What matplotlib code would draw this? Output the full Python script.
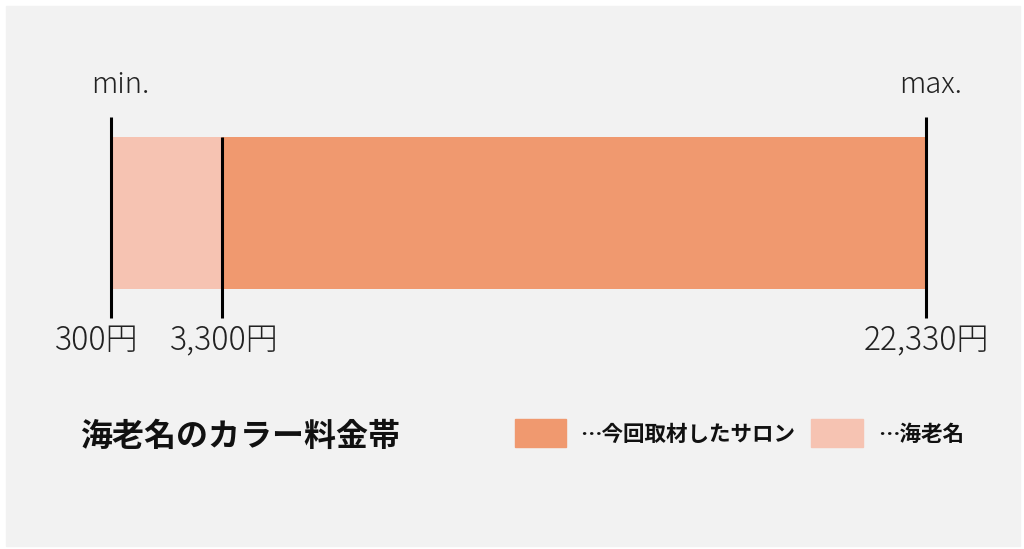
import matplotlib
matplotlib.use("Agg")
import matplotlib.pyplot as plt
from matplotlib.patches import Rectangle

plt.rcParams['font.family'] = ['Noto Sans CJK JP', 'DejaVu Sans']

# price band data (yen)
area_min = 300
salon_min = 3300
salon_max = 22330
tick_values = [300, 3300, 22330]
tick_labels = ["300円", "3,300円", "22,330円"]
title = "海老名のカラー料金帯"
legend_labels = ["…今回取材したサロン", "…海老名"]

c_salon = "#f0996f"
c_area = "#f6c3b2"
bg = "#f2f2f2"

W, H = 1024, 549
fig = plt.figure(figsize=(W / 100, H / 100), dpi=100, facecolor="white")

# overlay in pixel coords for background, title and legend
ax0 = fig.add_axes([0, 0, 1, 1])
ax0.set_xlim(0, W)
ax0.set_ylim(H, 0)
ax0.axis('off')
ax0.add_patch(Rectangle((6, 6), 1014, 540, color=bg, zorder=0))

# main axes: x in yen, y in pixels from top
ax = fig.add_axes([6 / W, 1 - 546 / H, 1014 / W, 540 / H])
ax.patch.set_alpha(0)
ax.axis('off')
px = (926 - 111) / (salon_max - area_min)
ax.set_xlim(area_min - (111 - 6) / px, salon_max + (1020 - 926) / px)
ax.set_ylim(546, 6)

bar_y, bar_h = 213, 152
ax.barh(bar_y, salon_min - area_min, left=area_min, height=bar_h, color=c_area)
ax.barh(bar_y, salon_max - salon_min, left=salon_min, height=bar_h, color=c_salon)

ax.vlines(area_min, 117, 318, color="black", lw=2.2)
ax.vlines(salon_min, 137, 318, color="black", lw=2.2)
ax.vlines(salon_max, 117, 318, color="black", lw=2.2)

ax.annotate("min.", (area_min, 85), xytext=(7, 0), textcoords="offset points",
            ha="center", va="center", fontsize=21, color="#222222", fontweight="light")
ax.annotate("max.", (salon_max, 85), xytext=(3, 0), textcoords="offset points",
            ha="center", va="center", fontsize=21, color="#222222", fontweight="light")

offsets = [-10, 2, 0]
for v, lab, off in zip(tick_values, tick_labels, offsets):
    ax.annotate(lab, (v, 341), xytext=(off, 0), textcoords="offset points",
                ha="center", va="center", fontsize=23, color="#222222",
                fontweight="light")

ax0.text(80, 437, title, ha="left", va="center", fontsize=23,
         fontweight="bold", color="#111111")

ax0.add_patch(Rectangle((515, 419), 51, 28, color=c_salon))
ax0.text(580, 434, legend_labels[0], ha="left", va="center", fontsize=15.5,
         fontweight="bold", color="#111111")
ax0.add_patch(Rectangle((811, 419), 52, 28, color=c_area))
ax0.text(878, 434, legend_labels[1], ha="left", va="center", fontsize=15.5,
         fontweight="bold", color="#111111")

fig.savefig("out.png", dpi=100, facecolor="white")
